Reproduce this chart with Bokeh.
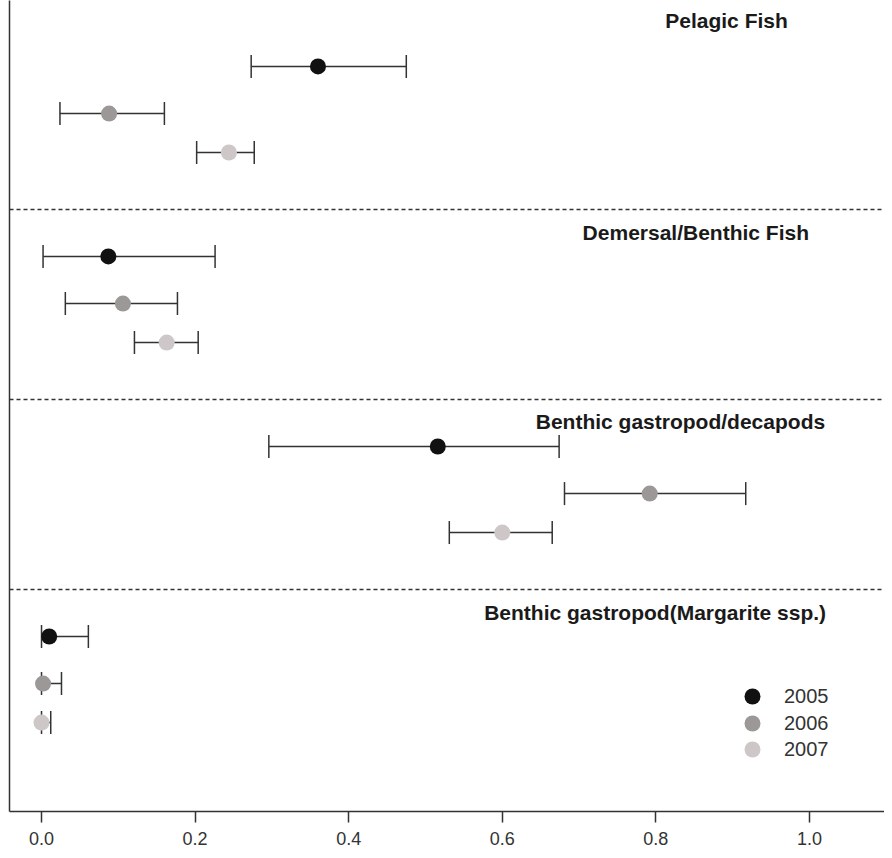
from bokeh.plotting import figure
from bokeh.models import (ColumnDataSource, Range1d, LinearAxis, FixedTicker, NumeralTickFormatter,
                          Whisker, TeeHead, Span, Legend, LegendItem)
from bokeh.core.properties import value
from bokeh.embed import file_html
from bokeh.resources import INLINE

# ---- data ----
groups = ["Pelagic Fish", "Demersal/Benthic Fish", "Benthic gastropod/decapods",
          "Benthic gastropod(Margarite ssp.)"]
years = ["2005", "2006", "2007"]

mean_2005 = [0.360, 0.087, 0.516, 0.010]
lower_2005 = [0.273, 0.002, 0.296, 0.000]
upper_2005 = [0.475, 0.226, 0.674, 0.061]

mean_2006 = [0.088, 0.106, 0.792, 0.002]
lower_2006 = [0.024, 0.031, 0.681, 0.000]
upper_2006 = [0.160, 0.177, 0.917, 0.026]

mean_2007 = [0.244, 0.163, 0.600, 0.000]
lower_2007 = [0.202, 0.121, 0.531, 0.000]
upper_2007 = [0.277, 0.204, 0.665, 0.012]

x_ticks = [0.0, 0.2, 0.4, 0.6, 0.8, 1.0]

# ---- layout / style config ----
year_offsets = [0.247, 0.495, 0.70]      # row position of each year inside a panel
label_offsets = [0.005, 0.121, 0.117, 0.121]
label_centers = [0.892, 0.852, 0.832, 0.799]
year_colors = ["#111111", "#9d9898", "#cdc8c7"]
legend_bottoms = [95, 68, 42]            # screen offset of each legend row from frame bottom
ink = "#333333"

means = [mean_2005, mean_2006, mean_2007]
lowers = [lower_2005, lower_2006, lower_2007]
uppers = [upper_2005, upper_2006, upper_2007]

p = figure(width=884, height=850, output_backend="svg", toolbar_location=None,
           x_range=Range1d(-0.0417, 1.0977), y_range=Range1d(4.168, -0.1),
           x_axis_type=None, y_axis_type=None)
p.outline_line_color = None
p.min_border_left = 9
p.min_border_right = 0
p.min_border_top = 0
p.min_border_bottom = 39

# axes
xaxis = LinearAxis(ticker=FixedTicker(ticks=x_ticks), formatter=NumeralTickFormatter(format="0.0"))
xaxis.major_tick_out = 11
xaxis.major_tick_in = 0
xaxis.minor_tick_line_color = None
xaxis.axis_line_color = ink
xaxis.axis_line_width = 1.5
xaxis.major_tick_line_color = ink
xaxis.major_tick_line_width = 1.5
xaxis.major_label_standoff = 9
xaxis.major_label_text_font = "Liberation Sans"
xaxis.major_label_text_font_size = "18px"
xaxis.major_label_text_color = ink
p.add_layout(xaxis, "below")

yaxis = LinearAxis(ticker=FixedTicker(ticks=[]))
yaxis.major_tick_out = 0
yaxis.major_tick_in = 0
yaxis.minor_tick_line_color = None
yaxis.major_label_standoff = 0
yaxis.axis_line_color = ink
yaxis.axis_line_width = 1.5
p.add_layout(yaxis, "left")

# panel separators
for i in range(1, len(groups)):
    p.add_layout(Span(location=i, dimension="width", line_color=ink, line_width=1.4,
                      line_dash="4 3"))

# panel labels
lab_src = ColumnDataSource(dict(
    x=label_centers,
    y=[i + off for i, off in enumerate(label_offsets)],
    t=groups))
p.text(x="x", y="y", text="t", source=lab_src, text_align="center", text_baseline="middle",
       text_font=value("Liberation Sans"), text_font_style="bold", text_font_size="21px",
       text_color="#1a1a1a")

renderers = []
for k, yr in enumerate(years):
    src = ColumnDataSource(dict(
        x=means[k],
        y=[i + year_offsets[k] for i in range(len(groups))],
        lower=lowers[k],
        upper=uppers[k]))
    w = Whisker(source=src, base="y", lower="lower", upper="upper", dimension="width",
                line_color=ink, line_width=1.5,
                lower_head=TeeHead(size=23, line_color=ink, line_width=1.5),
                upper_head=TeeHead(size=23, line_color=ink, line_width=1.5),
                level="underlay")
    p.add_layout(w)
    r = p.scatter(x="x", y="y", source=src, size=16, fill_color=year_colors[k],
                  line_color=None)
    renderers.append(r)

for yr, r, b in zip(years, renderers, legend_bottoms):
    lg = Legend(items=[LegendItem(label=yr, renderers=[r])], location=(723, b))
    lg.padding = 0
    lg.margin = 0
    lg.spacing = 0
    lg.glyph_width = 40
    lg.glyph_height = 40
    lg.label_height = 40
    lg.label_standoff = 12
    lg.label_text_font = "Liberation Sans"
    lg.label_text_font_size = "20px"
    lg.label_text_color = ink
    lg.label_text_baseline = "middle"
    lg.background_fill_alpha = 0
    lg.border_line_alpha = 0
    p.add_layout(lg, "center")

open("out.html", "w").write(file_html(p, INLINE))
